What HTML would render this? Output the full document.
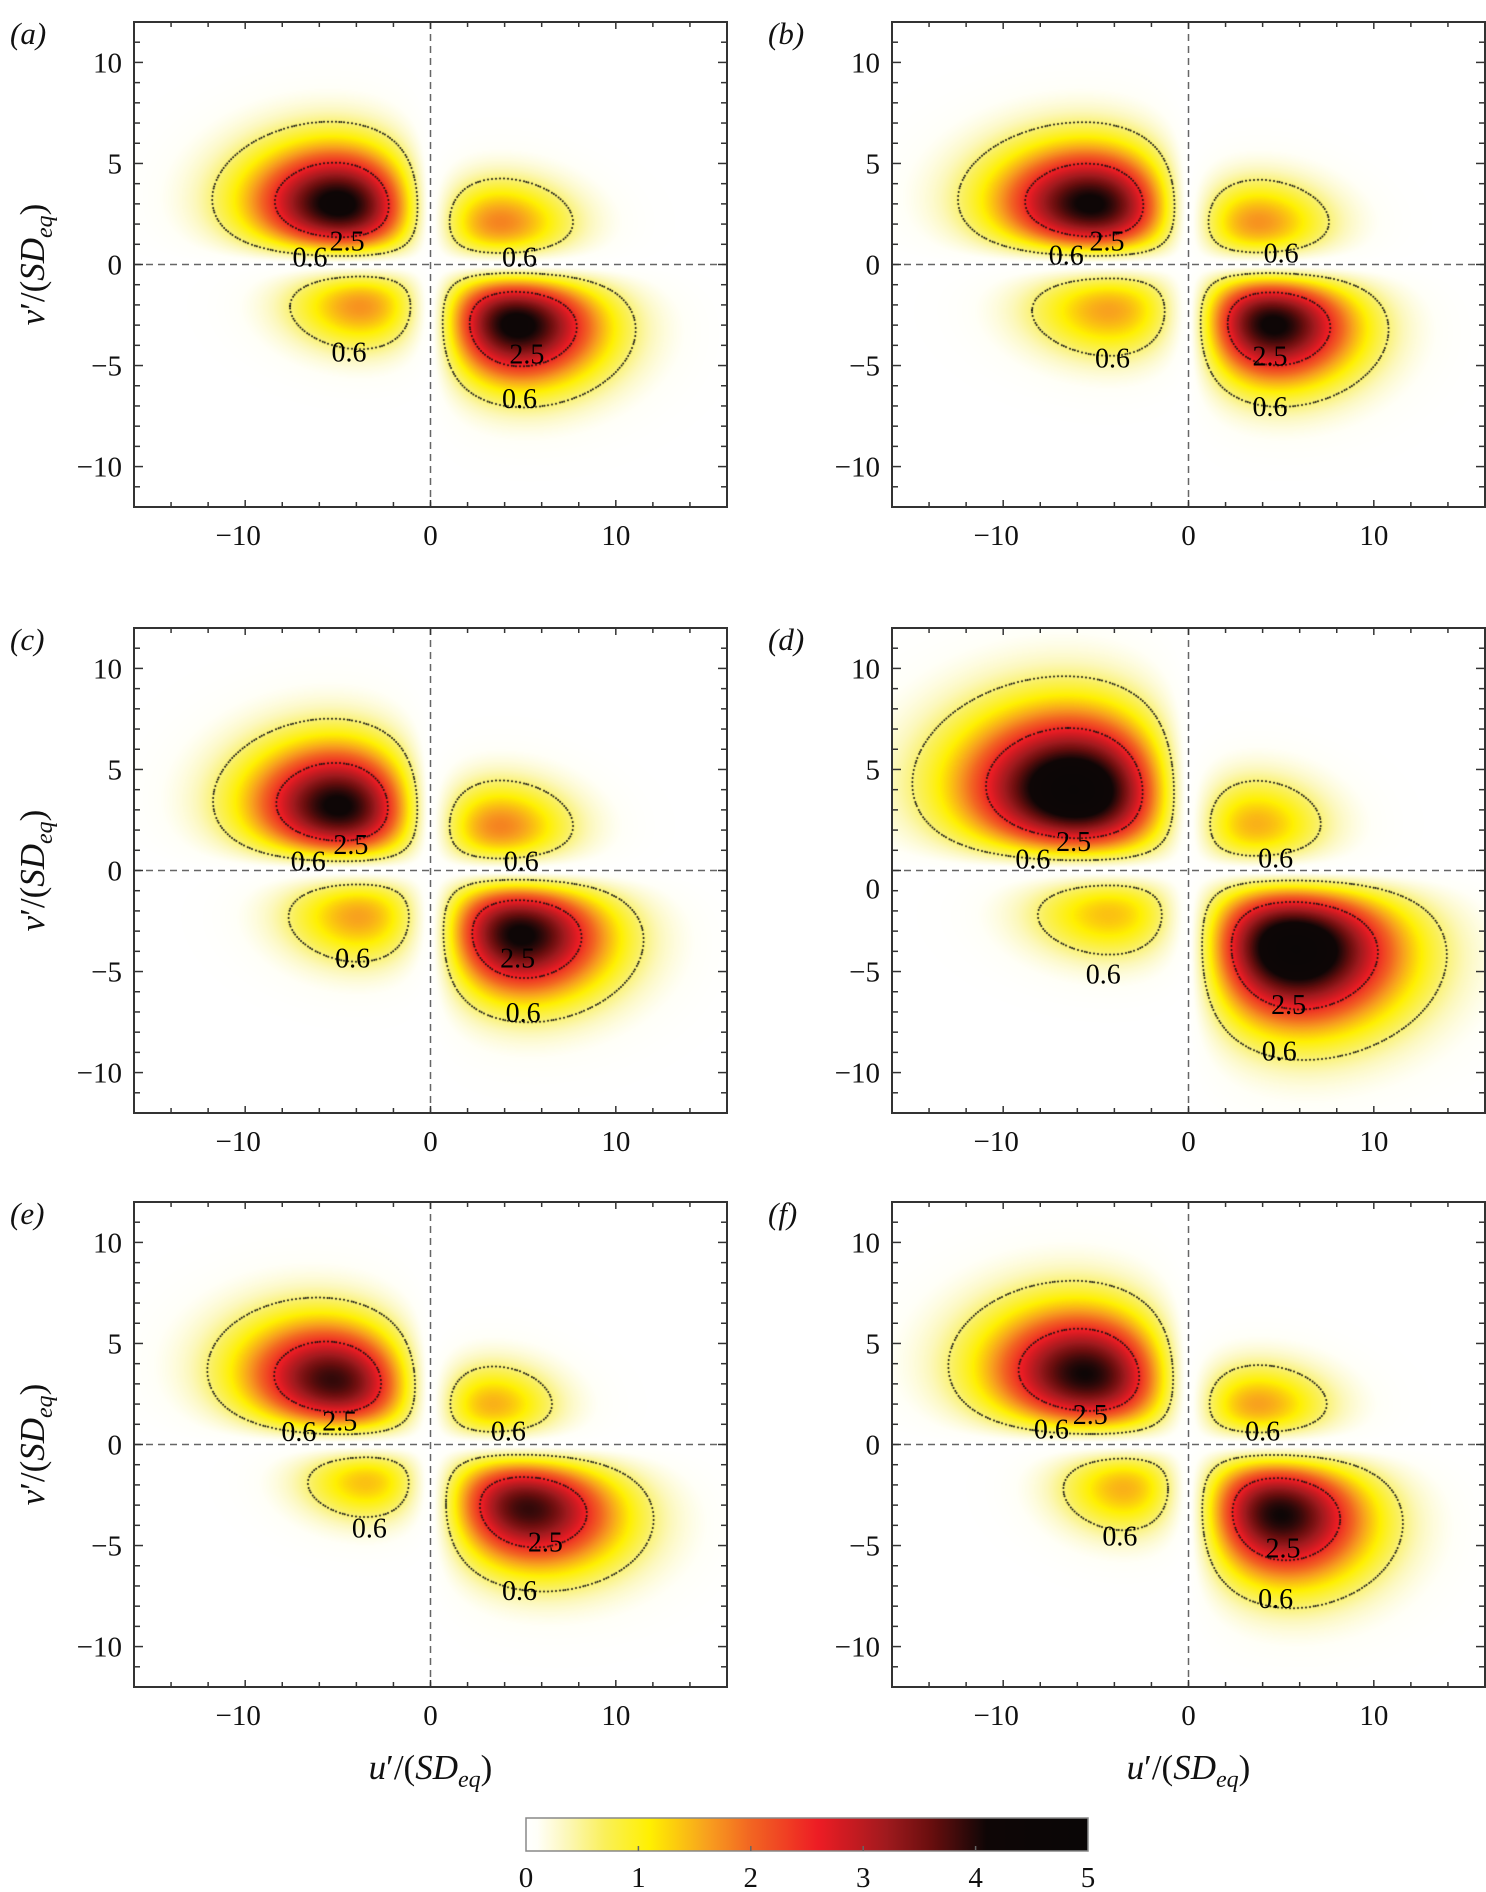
<!DOCTYPE html>
<html><head><meta charset="utf-8">
<style>
html,body{margin:0;padding:0;background:#fff;}
#root{position:relative;width:1486px;height:1892px;overflow:hidden;font-family:"Liberation Serif",serif;}
canvas{position:absolute;}
svg{position:absolute;left:0;top:0;}
</style></head>
<body>
<div id="root">
<svg id="svg" width="1486" height="1892"></svg>
</div>
<script>
// ---- data ----
const panelLabels = ['(a)','(b)','(c)','(d)','(e)','(f)'];
// quadrant order: Q2(-,+), Q4(+,-), Q1(+,+), Q3(-,-)
const peakA = [[4.3,4.3,1.8,1.7],[4.2,4.2,1.7,1.6],[4.2,4.2,1.8,1.6],[4.9,4.9,1.5,1.4],[3.9,3.9,1.5,1.4],[4.1,4.1,1.6,1.5]];
const peakU = [[5.0,4.7,3.8,3.8],[5.3,4.6,3.8,4.3],[5.0,4.9,3.8,3.9],[6.2,5.8,3.7,4.3],[5.3,5.3,3.4,3.5],[5.6,5.0,3.8,3.5]];
const peakV = [[3.0,3.0,2.1,2.1],[3.0,3.0,2.1,2.3],[3.2,3.2,2.2,2.3],[4.0,3.9,2.3,2.2],[3.2,3.2,2.0,1.9],[3.5,3.5,2.0,2.2]];
const tilt  = [[-0.1,-0.1,0,0],[-0.1,-0.1,0,0],[-0.1,-0.1,0,0],[-0.1,-0.1,0,0],[-0.2,-0.2,0,0],[-0.15,-0.15,0,0]];
const shapeN = [1.3,1.3,1.3,1.3,1.3,1.3];
const contourLevels = [0.6, 2.5];
const labelText = [
 ['0.6','2.5','0.6','0.6','2.5','0.6'],['0.6','2.5','0.6','0.6','2.5','0.6'],['0.6','2.5','0.6','0.6','2.5','0.6'],
 ['0.6','2.5','0.6','0.6','2.5','0.6'],['0.6','2.5','0.6','0.6','2.5','0.6'],['0.6','2.5','0.6','0.6','2.5','0.6']];
const labelU = [[-6.5,-4.5,4.8,-4.4,5.2,4.8],[-6.6,-4.4,5.0,-4.1,4.4,4.4],[-6.6,-4.3,4.9,-4.2,4.7,5.0],[-8.4,-6.2,4.7,-4.6,5.4,4.9],[-7.1,-4.9,4.2,-3.3,6.2,4.8],[-7.4,-5.3,4.0,-3.7,5.1,4.7]];
const labelV = [[0.4,1.2,0.4,-4.3,-4.4,-6.6],[0.5,1.2,0.6,-4.6,-4.5,-7.0],[0.5,1.3,0.5,-4.3,-4.3,-7.0],[0.6,1.45,0.65,-5.1,-6.6,-8.9],[0.66,1.2,0.7,-4.1,-4.8,-7.2],[0.8,1.5,0.7,-4.5,-5.1,-7.6]];
const xTicks = [-10,0,10];
const yTicks = [10,5,0,-5,-10];
const cbTicks = [0,1,2,3,4,5];

// ---- layout ----
const colX = [134, 892], rowY = [22, 628, 1202], PW = 593, PH = 485;
const XMIN=-16,XMAX=16,YMIN=-12,YMAX=12;
const NS='http://www.w3.org/2000/svg';
const svg=document.getElementById('svg');
const root=document.getElementById('root');
function el(tag,attrs,parent){const e=document.createElementNS(NS,tag);for(const k in attrs)e.setAttribute(k,attrs[k]);(parent||svg).appendChild(e);return e;}

const stops=[[0,[255,255,255]],[0.1,[255,255,248]],[0.35,[252,248,190]],[0.7,[250,240,90]],[1.1,[255,240,0]],[1.6,[248,162,30]],[2.0,[242,101,34]],[2.6,[237,28,36]],[3.2,[160,26,30]],[3.6,[105,14,14]],[4.1,[14,6,6]],[5,[10,6,6]]];
function cmap(v){if(v<=0)return stops[0][1];for(let i=1;i<stops.length;i++){if(v<=stops[i][0]){const a=stops[i-1],b=stops[i];const t=(v-a[0])/(b[0]-a[0]);return [0,1,2].map(k=>a[1][k]+(b[1][k]-a[1][k])*t);}}return stops[stops.length-1][1];}

function hraw(x,y,c,n){return Math.pow(x*y,n)*Math.exp(-0.5*n*(x*x+y*y)-n*c*x*y);}
function hmaxFor(c,n){let m=0;for(let x=0.01;x<3;x+=0.005){const h=hraw(x,x,c,n);if(h>m)m=h;}return m;}

function makeField(p){
  const n=shapeN[p];
  const q=[0,1,2,3].map(i=>{const c=tilt[p][i];const s=Math.sqrt(1+c);return {A:peakA[p][i],su:peakU[p][i]*s,sv:peakV[p][i]*s,c:c,hm:hmaxFor(c,n)};});
  return function(u,v){
    let i; if(u<0&&v>=0)i=0;else if(u>=0&&v<0)i=1;else if(u>=0&&v>=0)i=2;else i=3;
    const Q=q[i];const x=Math.abs(u)/Q.su,y=Math.abs(v)/Q.sv;
    return Q.A*hraw(x,y,Q.c,n)/Q.hm;
  };
}

for(let p=0;p<6;p++){
  const L=colX[p%2], T=rowY[Math.floor(p/2)];
  const sx=u=>L+(u-XMIN)/(XMAX-XMIN)*PW;
  const sy=v=>T+(YMAX-v)/(YMAX-YMIN)*PH;
  const f=makeField(p);
  const cv=document.createElement('canvas');
  cv.width=PW;cv.height=PH;cv.style.left=L+'px';cv.style.top=T+'px';
  
  
  root.insertBefore(cv,svg);
  const ctx=cv.getContext('2d');const img=ctx.createImageData(PW,PH);
  for(let j=0;j<PH;j++){const v=YMAX-(j+0.5)/PH*(YMAX-YMIN);
    for(let i=0;i<PW;i++){const u=XMIN+(i+0.5)/PW*(XMAX-XMIN);
      const c=cmap(f(u,v));const k=(j*PW+i)*4;img.data[k]=c[0];img.data[k+1]=c[1];img.data[k+2]=c[2];img.data[k+3]=255;}}
  ctx.putImageData(img,0,0);
  ctx.fillStyle='#111';
  const st=4, nx=Math.floor(PW/st), ny=Math.floor(PH/st);
  const val=[];for(let j=0;j<=ny;j++){val.push([]);for(let i=0;i<=nx;i++){val[j].push(f(XMIN+i*st/PW*(XMAX-XMIN),YMAX-j*st/PH*(YMAX-YMIN)));}}
  contourLevels.forEach(lv=>{
    for(let j=0;j<ny;j++)for(let i=0;i<nx;i++){
      const a=val[j][i],b=val[j][i+1],c=val[j+1][i+1],d=val[j+1][i];
      const pts=[];
      if((a-lv)*(b-lv)<0)pts.push([i+(lv-a)/(b-a),j]);
      if((b-lv)*(c-lv)<0)pts.push([i+1,j+(lv-b)/(c-b)]);
      if((d-lv)*(c-lv)<0)pts.push([i+(lv-d)/(c-d),j+1]);
      if((a-lv)*(d-lv)<0)pts.push([i,j+(lv-a)/(d-a)]);
      if(pts.length>=2){const mx=(pts[0][0]+pts[1][0])/2*st,my=(pts[0][1]+pts[1][1])/2*st;ctx.beginPath();ctx.arc(mx,my,1.0,0,7);ctx.fill();}
    }
  });
  const g=el('g',{});
  
  
  const zl1=el('line',{x1:sx(0),x2:sx(0),y1:T,y2:T+PH,stroke:'#666','stroke-width':1.5,'stroke-dasharray':'7,5'},g);
  
  
  const zl2=el('line',{x1:L,x2:L+PW,y1:sy(0),y2:sy(0),stroke:'#666','stroke-width':1.5,'stroke-dasharray':'7,5'},g);
  
  
  for(let u=-16;u<=16;u+=2){const len=(u%10===0)?7:5;
    el('line',{x1:sx(u),x2:sx(u),y1:T+PH,y2:T+PH-len,stroke:'#333','stroke-width':1.5},g);
    el('line',{x1:sx(u),x2:sx(u),y1:T,y2:T+len,stroke:'#333','stroke-width':1.5},g);}
  for(let v=-12;v<=12;v++){const len=(v%5===0)?9:6;
    el('line',{x1:L,x2:L+len,y1:sy(v),y2:sy(v),stroke:'#333','stroke-width':1.5},g);
    el('line',{x1:L+PW,x2:L+PW-len,y1:sy(v),y2:sy(v),stroke:'#333','stroke-width':1.5},g);}
  const fr=el('rect',{x:L,y:T,width:PW,height:PH,fill:'none',stroke:'#333','stroke-width':2},g);
  
  
  xTicks.forEach(u=>{const t=el('text',{x:sx(u)-(u<0?7:0),y:T+PH+38,'font-size':29,'text-anchor':'middle',fill:'#111'},g);t.textContent=(u<0?'\u2212':'')+Math.abs(u);
    
    });
  yTicks.forEach(v=>{const dy=(p===3&&v===0)?18:0;const t=el('text',{x:L-12,y:sy(v)+10+dy,'font-size':29,'text-anchor':'end',fill:'#111'},g);t.textContent=(v<0?'\u2212':'')+Math.abs(v);
    
    });
  for(let k=0;k<labelText[p].length;k++){const t=el('text',{x:sx(labelU[p][k]),y:sy(labelV[p][k])+10,'font-size':28,'text-anchor':'middle',fill:'#000'},g);t.textContent=labelText[p][k];
    
    }
  const pl=el('text',{x:L-124,y:T+22,'font-size':31,'font-style':'italic',fill:'#111'},g);pl.textContent=panelLabels[p];
  
  
  if(p%2===0){
    const yt=el('text',{transform:`translate(${L-90},${T+PH/2}) rotate(-90)`,'font-size':35,'text-anchor':'middle',fill:'#111'},g);
    yt.innerHTML='<tspan font-style="italic">v</tspan>\u2032/(<tspan font-style="italic">SD</tspan><tspan font-style="italic" font-size="24" dy="8">eq</tspan><tspan dy="-8">)</tspan>';
    
    
  }
  if(p>=4){
    const xt=el('text',{x:L+PW/2,y:T+PH+92,'font-size':35,'text-anchor':'middle',fill:'#111'},g);
    xt.innerHTML='<tspan font-style="italic">u</tspan>\u2032/(<tspan font-style="italic">SD</tspan><tspan font-style="italic" font-size="24" dy="8">eq</tspan><tspan dy="-8">)</tspan>';
    
    
  }
}
const CBL=526,CBR=1088,CBT=1818,CBB=1851;
const defs=el('defs',{});const lg=el('linearGradient',{id:'cbg',x1:0,x2:1,y1:0,y2:0},defs);
for(let i=0;i<=50;i++){const v=i/10;const c=cmap(v);el('stop',{offset:(i/50),'stop-color':`rgb(${c.map(Math.round).join(',')})`},lg);}
const cb=el('rect',{x:CBL,y:CBT,width:CBR-CBL,height:CBB-CBT,fill:'url(#cbg)',stroke:'#888','stroke-width':1.5});


cbTicks.forEach(v=>{const x=CBL+v/5*(CBR-CBL);
  if(v>0&&v<5)el('line',{x1:x,x2:x,y1:CBB,y2:CBB-5,stroke:'#666','stroke-width':1.5});
  const t=el('text',{x:x,y:1887,'font-size':29,'text-anchor':'middle',fill:'#111'});t.textContent=v;
  
  });
</script>
</body></html>
